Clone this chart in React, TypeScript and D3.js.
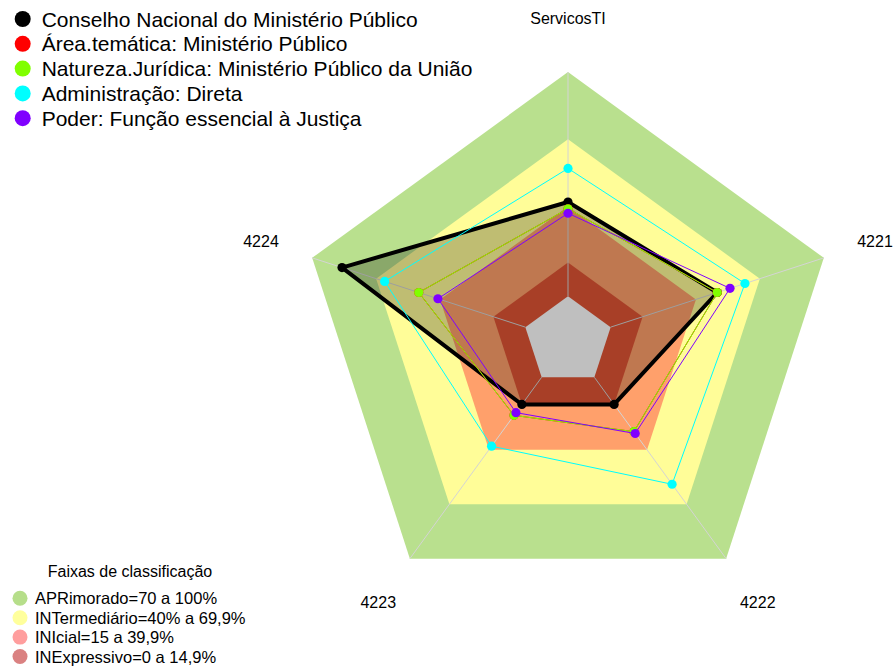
import * as d3 from "d3";

const axes = ["ServicosTI", "4221", "4222", "4223", "4224"];

const conselho = [42, 50, 15, 15, 86];
const areaTematica = [39, 50, 30, 21, 50];
const natureza = [39, 50, 30, 21, 50];
const administracao = [57, 63, 59, 38, 66];
const poder = [37, 56, 31, 19.5, 41];

const seriesNames = [
  "Conselho Nacional do Ministério Público",
  "Área.temática: Ministério Público",
  "Natureza.Jurídica: Ministério Público da União",
  "Administração: Direta",
  "Poder: Função essencial à Justiça",
];
const seriesColors = ["#000000", "#ff0000", "#80ff00", "#00ffff", "#8000ff"];
const seriesValues = [conselho, areaTematica, natureza, administracao, poder];

// faixas: limite superior de cada faixa, cor no gráfico
const bandLimits = [100, 70, 40, 15, 0];
const bandColors = ["#b9e08e", "#fffd98", "#ffa06b", "#e05535", "#ffffff"];

const legendTitle = "Faixas de classificação";
const bandLabels = [
  "APRimorado=70 a 100%",
  "INTermediário=40% a 69,9%",
  "INIcial=15 a 39,9%",
  "INExpressivo=0 a 14,9%",
];
const bandLegendColors = ["#b6de8a", "#ffff9c", "#ff9e9e", "#da8181"];

const W = 894, H = 668;
const cx = 568, cy = 341, R = 269;
const font = "'Liberation Sans', Arial, sans-serif";

export default function App() {
  const r = d3.scaleLinear().domain([0, 100]).range([R / 6, R]);
  const angle = d3.scaleLinear().domain([0, axes.length]).range([0, 2 * Math.PI]);

  const radial = d3.lineRadial<number>()
    .angle((_, i) => angle(i))
    .radius(d => r(d))
    .curve(d3.curveLinearClosed);

  const pt = (v: number, i: number): [number, number] => [
    Math.sin(angle(i)) * r(v),
    -Math.cos(angle(i)) * r(v),
  ];

  return (
    <svg width={W} height={H} style={{ position: "absolute", left: 0, top: 0, fontFamily: font }}>
      <g transform={`translate(${cx},${cy})`}>
        {bandLimits.map((lim, k) => (
          <path key={k} d={radial(axes.map(() => lim)) || ""} fill={bandColors[k]} />
        ))}
        {axes.map((_, i) => {
          const [x0, y0] = pt(0, i);
          const [x1, y1] = pt(100, i);
          return <line key={i} x1={x0} y1={y0} x2={x1} y2={y1} stroke="#d4d4d4" strokeWidth={1} />;
        })}
        <path d={radial(conselho) || ""} fill="rgba(0,0,0,0.25)" />
        {seriesValues.map((vals, s) => (
          <g key={s}>
            <path d={radial(vals) || ""} fill="none" stroke={seriesColors[s]}
              strokeWidth={s === 0 ? 4 : 1} strokeLinejoin="round" />
            {vals.map((v, i) => {
              const [x, y] = pt(v, i);
              return <circle key={i} cx={x} cy={y} r={4.6} fill={seriesColors[s]} />;
            })}
          </g>
        ))}
        {axes.map((a, i) => {
          const lx = Math.sin(angle(i)) * R * 1.2;
          const ly = -Math.cos(angle(i)) * R * 1.2;
          return (
            <text key={a} x={lx} y={ly} textAnchor="middle" dominantBaseline="central"
              fontSize={16} fill="#000">{a}</text>
          );
        })}
      </g>

      <g>
        {seriesNames.map((n, i) => (
          <g key={n} transform={`translate(0,${19 + i * 24.8})`}>
            <circle cx={22.7} cy={0} r={8} fill={seriesColors[i]} />
            <text x={41.7} y={0} dominantBaseline="central" fontSize={21} fill="#000">{n}</text>
          </g>
        ))}
      </g>

      <g>
        <text x={130} y={571.7} textAnchor="middle" dominantBaseline="central" fontSize={16} fill="#000">
          {legendTitle}
        </text>
        {bandLabels.map((b, i) => (
          <g key={b} transform={`translate(0,${598.3 + i * 19.4})`}>
            <circle cx={20} cy={0} r={7.5} fill={bandLegendColors[i]} />
            <text x={35} y={0} dominantBaseline="central" fontSize={16.5} fill="#000">{b}</text>
          </g>
        ))}
      </g>
    </svg>
  );
}
